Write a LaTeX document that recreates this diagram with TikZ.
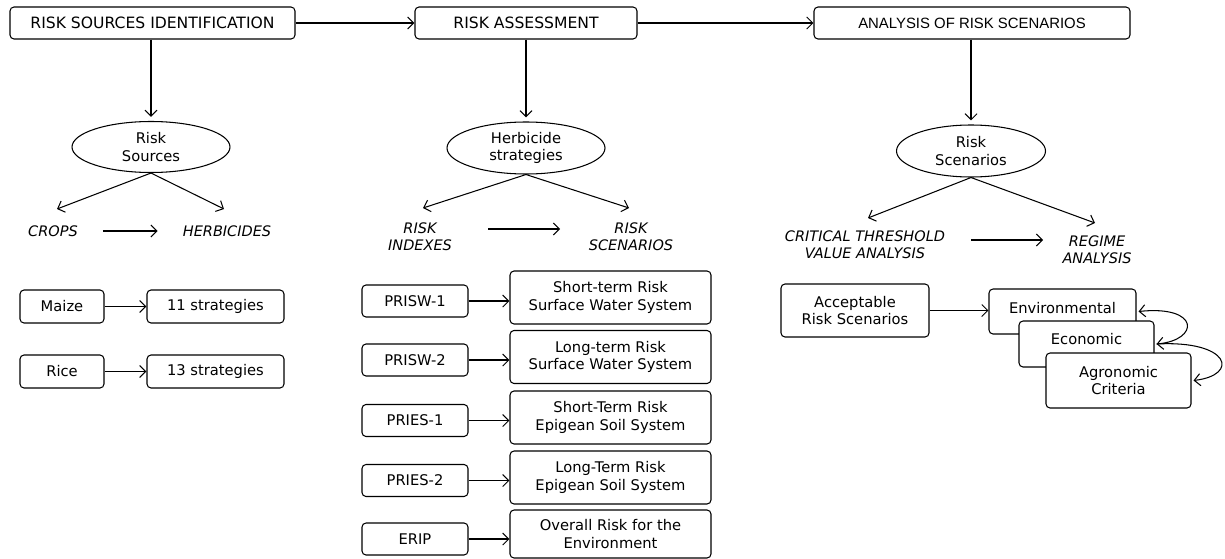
\documentclass[tikz,border=0pt]{standalone}
\usepackage{fontspec}
\setmainfont{DejaVu Sans}
\newfontfamily\arialf{Liberation Sans}
\usetikzlibrary{arrows.meta,shapes.geometric}
\begin{document}
\begin{tikzpicture}[x=1pt,y=-1pt,
  every node/.style={font=\fontsize{14.7}{17.6}\selectfont, inner sep=0pt},
  box/.style={draw, rounded corners=4pt, line width=1.05pt, fill=white, align=center},
  titlebox/.style={box, minimum height=32pt, font=\fontsize{15.6}{18}\selectfont},
  smallbox/.style={box, minimum width=106pt, minimum height=32pt},
  bigbox/.style={box, minimum width=201pt, minimum height=53pt},
  ell/.style={draw, ellipse, line width=1.05pt, align=center},
  lbl/.style={font=\fontsize{14.5}{17.4}\selectfont\itshape, align=center},
  arr/.style={-{Straight Barb[length=6pt,width=12pt]}, line width=1.05pt},
  dblarr/.style={{Straight Barb[length=6pt,width=12pt]}-{Straight Barb[length=6pt,width=12pt]}, line width=1.05pt}
]
\useasboundingbox (0,0) rectangle (1225,559);

% title boxes
\node[titlebox, minimum width=285pt] (b1) at (152.5,23) {RISK SOURCES IDENTIFICATION};
\node[titlebox, minimum width=222pt] (b2) at (526,23) {RISK ASSESSMENT};
\node[titlebox, minimum width=316pt, font=\arialf\fontsize{14.9}{17.6}\selectfont] (b3) at (972,23) {ANALYSIS OF RISK SCENARIOS};
\draw[arr] (b1) -- (b2);
\draw[arr] (b2) -- (b3);

% ellipses
\node[ell, minimum width=158pt, minimum height=51pt] (e1) at (151,147) {Risk\\Sources};
\node[ell, minimum width=158pt, minimum height=52pt] (e2) at (526,148) {Herbicide\\strategies};
\node[ell, minimum width=149pt, minimum height=52pt] (e3) at (971,151) {Risk\\Scenarios};
\draw[arr, shorten >=4pt] (b1.south -| e1.north) -- (e1.north);
\draw[arr, shorten >=4pt] (b2.south) -- (e2.north);
\draw[arr, shorten >=4pt] (b3.south -| e3.north) -- (e3.north);

% left column
\node[lbl] (crops) at (53,231) {CROPS};
\node[lbl] (herb) at (227,231) {HERBICIDES};
\coordinate (c1) at (57,209);
\coordinate (c2) at (224,209);
\draw[arr] (e1.south) -- (c1);
\draw[arr] (e1.south) -- (c2);
\draw[arr] ([xshift=25pt]crops.east) -- ([xshift=-25pt]herb.west);

\node[box, minimum width=84pt, minimum height=33pt] (maize) at (62,306.5) {Maize};
\node[box, minimum width=137pt, minimum height=33pt] (s11) at (215.5,306.5) {11 strategies};
\node[box, minimum width=84pt, minimum height=33pt] (rice) at (62,371.5) {Rice};
\node[box, minimum width=137pt, minimum height=33pt] (s13) at (215.5,371.5) {13 strategies};
\draw[arr] (maize) -- (s11);
\draw[arr] (rice) -- (s13);

% middle column
\node[lbl] (ri) at (420,237) {RISK\\INDEXES};
\node[lbl] (rs) at (631,237) {RISK\\SCENARIOS};
\coordinate (m1) at (423,208);
\coordinate (m2) at (629,208);
\draw[arr] (e2.south) -- (m1);
\draw[arr] (e2.south) -- (m2);
\coordinate (ma) at (488,229);
\coordinate (mb) at (560,229);
\draw[arr] (ma) -- (mb);

\node[smallbox] (p1) at (415,301) {PRISW-1};
\node[bigbox] (q1) at (610.5,297.5) {Short-term Risk\\Surface Water System};
\node[smallbox] (p2) at (415,360) {PRISW-2};
\node[bigbox] (q2) at (610.5,357) {Long-term Risk\\Surface Water System};
\node[smallbox] (p3) at (415,420.5) {PRIES-1};
\node[bigbox] (q3) at (610.5,417.5) {Short-Term Risk\\Epigean Soil System};
\node[smallbox] (p4) at (415,480.5) {PRIES-2};
\node[bigbox] (q4) at (610.5,477.5) {Long-Term Risk\\Epigean Soil System};
\node[smallbox] (p5) at (415,539) {ERIP};
\node[bigbox, minimum height=48pt] (q5) at (610.5,534) {Overall Risk for the\\Environment};
\foreach \i in {1,...,5}{\draw[arr] (p\i.east) -- (p\i.east -| q\i.west);}

% right column
\node[lbl] (ctva) at (865,245) {CRITICAL THRESHOLD\\VALUE ANALYSIS};
\node[lbl] (reg) at (1097,250) {REGIME\\ANALYSIS};
\coordinate (r1) at (868,218);
\coordinate (r2) at (1095,223);
\draw[arr] (e3.south) -- (r1);
\draw[arr] (e3.south) -- (r2);
\coordinate (ra) at (971,240);
\coordinate (rb) at (1043,240);
\draw[arr] (ra) -- (rb);

\node[box, minimum width=148pt, minimum height=53pt] (acc) at (855,310.5) {Acceptable\\Risk Scenarios};
\node[box, minimum width=147pt, minimum height=45pt] (env) at (1062.5,311.5) {};
\node (envt) at (1062.5,308) {Environmental};
\node[box, minimum width=135pt, minimum height=46pt] (eco) at (1086.5,344) {};
\node (ecot) at (1086.5,339.5) {Economic};
\node[box, minimum width=145pt, minimum height=55pt] (agr) at (1118.5,380.5) {Agronomic\\Criteria};
\draw[arr] (acc.east) -- (acc.east -| env.west);
\draw[dblarr] ([xshift=2pt]env.east) .. controls (1200,305) and (1200,340) .. ([xshift=2pt]eco.east);
\draw[arr] ([xshift=2pt]eco.east) .. controls (1230,340) and (1240,375) .. ([xshift=2pt]agr.east);
\end{tikzpicture}
\end{document}
